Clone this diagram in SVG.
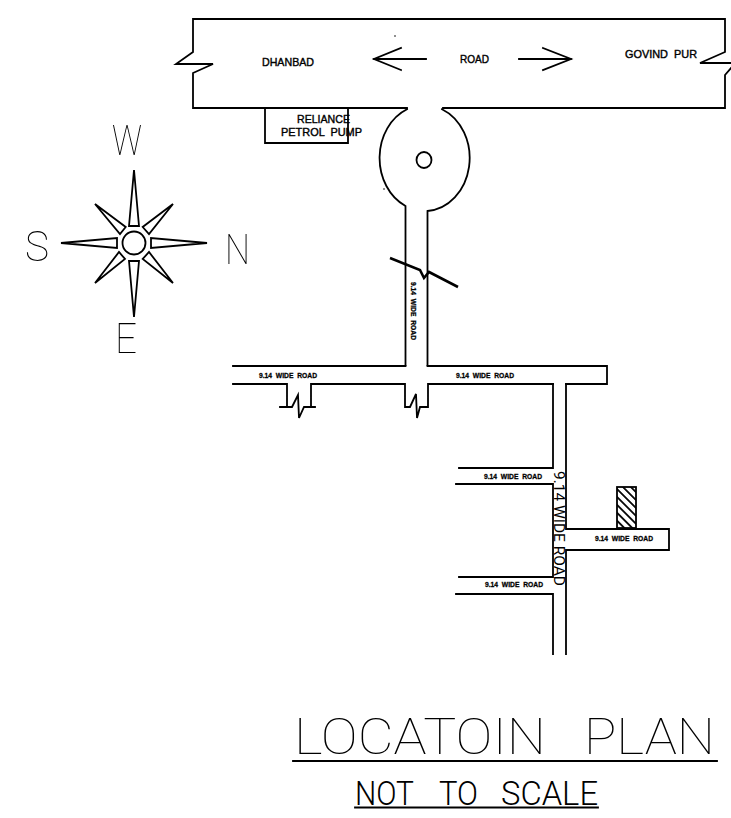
<svg xmlns="http://www.w3.org/2000/svg" width="731" height="818" viewBox="0 0 731 818">
<style>
.l{fill:none;stroke:#000;stroke-width:1.8;stroke-linecap:square}
.c{fill:none;stroke:#000;stroke-width:1.8;stroke-linejoin:miter}
text{font-family:"Liberation Sans",Arial,sans-serif;fill:#000}
.s{font-size:7.500px;font-weight:bold;stroke:#000;stroke-width:.3}
.m{font-size:11px;stroke:#000;stroke-width:.4}
.t{font-family:Roboto,"Liberation Sans",sans-serif;font-weight:100}
.u{font-family:Roboto,"Liberation Sans",sans-serif;font-weight:300}
</style>
<defs>
<pattern id="h" width="5.600" height="5.600" patternUnits="userSpaceOnUse" patternTransform="rotate(-45)"><rect width="5.600" height="5.600" fill="#fff"/><rect width="1.800" height="5.600" fill="#000"/></pattern>
<filter id="g" filterUnits="userSpaceOnUse" x="0" y="100" width="300" height="300" color-interpolation-filters="sRGB"><feOffset dx="0" dy="0"/></filter>
</defs>
<rect width="731" height="818" fill="#fff"/>
<g id="main-road">
<path class="l" d="M407 108H193V73L213 64H176L193 52V19H725V52L700 63H731M731 68L725 75V108H443"/>
<path class="l" d="M374 59H426M401 48L374 59L401 70M519 59H571M543 48L571 59L543 70"/>
<text class="m" x="262" y="66" textLength="52" lengthAdjust="spacingAndGlyphs">DHANBAD</text>
<text class="m" x="460" y="63" textLength="29" lengthAdjust="spacingAndGlyphs">ROAD</text>
<text class="m" x="625" y="58" textLength="72" lengthAdjust="spacingAndGlyphs" xml:space="preserve">GOVIND  PUR</text>
<circle cx="395" cy="36" r=".8"/><circle cx="384" cy="189" r=".8"/>
</g>
<g id="petrol-pump">
<path class="l" d="M265 108V143H348V108"/>
<text class="m" x="297" y="123" textLength="53" lengthAdjust="spacingAndGlyphs">RELIANCE</text>
<text class="m" x="281" y="136" textLength="81" lengthAdjust="spacingAndGlyphs" xml:space="preserve">PETROL  PUMP</text>
</g>
<g id="roundabout">
<path class="l" d="M407 109.200A45 53 0 0 0 405.500 206V365M442 109.200A45 53 0 0 1 427.500 211V365"/>
<ellipse class="l" cx="424" cy="160" rx="7.500" ry="8"/>
</g>
<g id="road-break">
<path fill="none" stroke="#000" stroke-width="2.600" d="M390 258L420 270L424 278L429 272L458 287"/>
<text class="s" transform="translate(411 282) rotate(90)" textLength="58" lengthAdjust="spacingAndGlyphs" xml:space="preserve">9.14  WIDE  ROAD</text>
</g>
<g id="cross-road">
<path class="l" d="M233 366H405.500M427.500 366H607V384H566M553 384H428V407H420L417 418L416 394L410 407H405V384H311V407M287 384H233M287 384V407"/>
<path class="l" d="M280 407H292L298 395L299 418L304 407H315"/>
<text class="s" x="259" y="378" textLength="58" lengthAdjust="spacingAndGlyphs" xml:space="preserve">9.14  WIDE  ROAD</text>
<text class="s" x="456" y="378" textLength="58" lengthAdjust="spacingAndGlyphs" xml:space="preserve">9.14  WIDE  ROAD</text>
</g>
<g id="side-road">
<path class="l" d="M553 384V468H459M456 484H553V577H459M456 594H553V654M566 384V529H669V550H566V654"/>
<text class="s" x="484" y="479" textLength="58" lengthAdjust="spacingAndGlyphs" xml:space="preserve">9.14  WIDE  ROAD</text>
<text class="s" x="485" y="587" textLength="58" lengthAdjust="spacingAndGlyphs" xml:space="preserve">9.14  WIDE  ROAD</text>
<text class="s" x="595" y="541" textLength="58" lengthAdjust="spacingAndGlyphs" xml:space="preserve">9.14  WIDE  ROAD</text>
<text transform="translate(554 471) rotate(90)" font-size="14" textLength="115" lengthAdjust="spacingAndGlyphs" style="font-family:Roboto,sans-serif;font-weight:400" xml:space="preserve">9.14 WIDE ROAD</text>
</g>
<g id="site">
<rect x="617" y="487" width="19" height="41" fill="url(#h)" stroke="#000" stroke-width="1.800"/>
</g>
<g id="compass" filter="url(#g)">
<circle class="c" cx="134" cy="243" r="11.500"/>
<path class="c" d="M134 170L139 226H129ZM134 317L139 261H129ZM61 243L117 238V248ZM207 243L151 238V248ZM95 204L125.700 227L120 234ZM173 204L142.700 227L149 234ZM95 283L125 259L119 252ZM173 283L142.700 259L149 252Z"/>
<text class="t" x="112" y="155" font-size="42" textLength="30" lengthAdjust="spacingAndGlyphs">W</text>
<text class="t" x="25" y="261" font-size="42" textLength="24" lengthAdjust="spacingAndGlyphs">S</text>
<text class="t" x="225" y="264" font-size="42" textLength="25" lengthAdjust="spacingAndGlyphs">N</text>
<text class="t" x="115" y="353" font-size="42" textLength="22" lengthAdjust="spacingAndGlyphs">E</text>
</g>
<g id="title">
<text class="t" x="294" y="754" font-size="50" textLength="252" lengthAdjust="spacingAndGlyphs">LOCATOIN</text>
<text class="t" x="584" y="754" font-size="50" textLength="131" lengthAdjust="spacingAndGlyphs">PLAN</text>
<path class="l" d="M293 761H717" stroke="#555"/>
<text class="u" x="355" y="805" font-size="33" textLength="59" lengthAdjust="spacingAndGlyphs">NOT</text>
<text class="u" x="439" y="805" font-size="33" textLength="39" lengthAdjust="spacingAndGlyphs">TO</text>
<text class="u" x="501" y="805" font-size="33" textLength="97" lengthAdjust="spacingAndGlyphs">SCALE</text>
<path class="l" d="M355 807.500H598" stroke="#333"/>
</g>
</svg>
